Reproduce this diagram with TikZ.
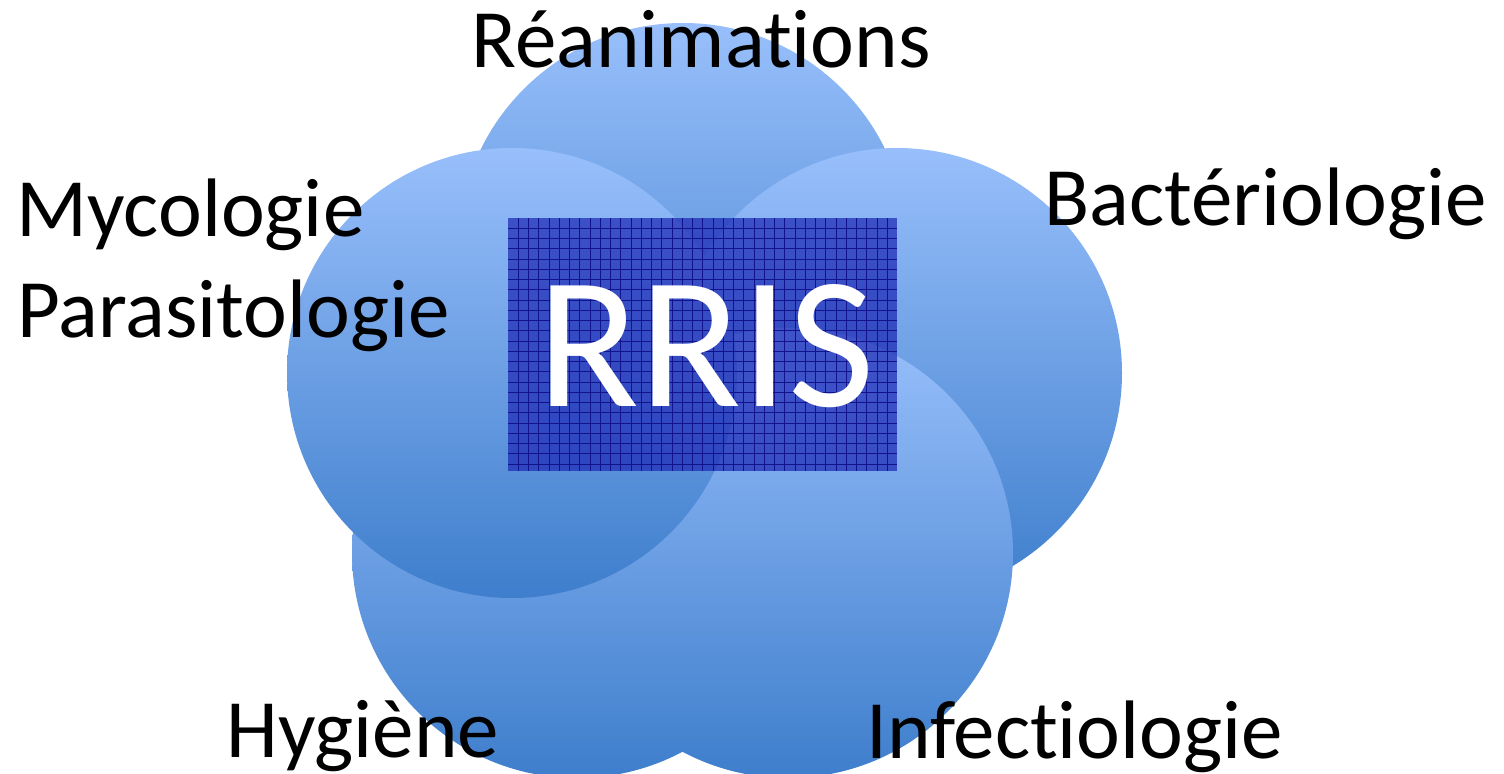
\documentclass[tikz,border=0pt]{standalone}
\usepackage{fontspec}
\setmainfont{Carlito}[Ligatures=NoCommon]
\definecolor{ctop}{RGB}{152,191,251}
\definecolor{cbot}{RGB}{62,126,204}
\definecolor{boxfill}{RGB}{30,42,182}
\definecolor{gridcol}{RGB}{18,18,140}
\tikzset{
  circ/.style={circle, minimum size=225pt, inner sep=0pt, top color=ctop, bottom color=cbot, draw=none},
  lbl/.style={anchor=base west, inner sep=0pt, font=\fontsize{41.5}{48}\selectfont},
  gridline/.style={draw=gridcol, line width=0.45pt},
}
\begin{document}
\begin{tikzpicture}[x=0.5pt,y=-0.5pt]
\useasboundingbox (0,0) rectangle (1504,774);
% circles
\node[circ] (crea) at (683,248) {};
\node[circ] (cbac) at (897,373) {};
\node[circ] (chyg) at (577,553) {};
\node[circ] (cinf) at (788,553) {};
\node[circ] (cmyc) at (512,373) {};
% central box
\node[fill=boxfill, fill opacity=0.72, minimum width=194.5pt, minimum height=126.5pt, inner sep=0pt, anchor=north west] (box) at (508,218) {};
\foreach \k in {1,...,37} \draw[gridline] ({508+10.25*\k},218) -- ({508+10.25*\k},471);
\foreach \k in {1,...,24} \draw[gridline] (508,{218+10.25*\k}) -- (897,{218+10.25*\k});
\node[anchor=base, inner sep=0pt, text=white, font=\fontsize{94}{100}\selectfont] (rris) at (706,407) {RRIS};
% labels
\node[lbl] (lrea) at (471,68) {Réanimations};
\node[lbl] (lmyc) at (16,237) {Mycologie};
\node[lbl] (lpar) at (17,338) {Parasitologie};
\node[lbl] (lbac) at (1044,226) {Bactériologie};
\node[lbl] (lhyg) at (226,757) {Hygiène};
\node[lbl] (linf) at (866,758) {Infectiologie};
\end{tikzpicture}
\end{document}
